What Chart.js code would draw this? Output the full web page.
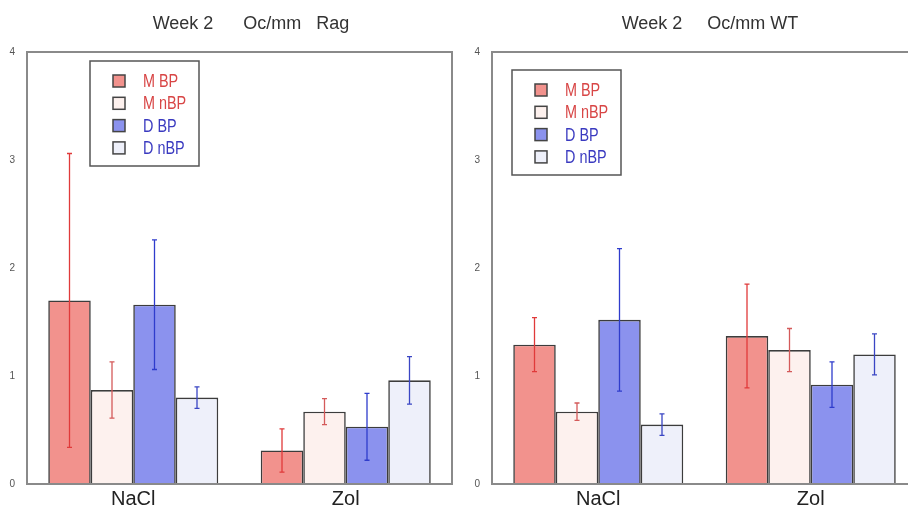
<!DOCTYPE html>
<html>
<head>
<meta charset="utf-8">
<script src="https://cdn.jsdelivr.net/npm/chart.js@4"></script>
<style>
  html, body { margin: 0; padding: 0; background: #fff; overflow: hidden; }
  body { width: 908px; height: 510px; position: relative; }
  .box { position: absolute; top: 0; width: 460px; height: 510px; }
  #b1 { left: 0; }
  #b2 { left: 465px; }
</style>
</head>
<body>
<div class="box" id="b1"><canvas id="c1"></canvas></div>
<div class="box" id="b2"><canvas id="c2"></canvas></div>
<script>
// ---- data ----
const categories = ['NaCl', 'Zol'];
const seriesLabels = ['M BP', 'M nBP', 'D BP', 'D nBP'];
const yTicks = [0, 1, 2, 3, 4];

const titleRag = 'Week 2      Oc/mm   Rag';
const titleWT = 'Week 2     Oc/mm WT';

// Rag panel
const ragMBP = [1.70, 0.31];
const ragMBPErr = [1.36, 0.20];
const ragMnBP = [0.87, 0.67];
const ragMnBPErr = [0.26, 0.12];
const ragDBP = [1.66, 0.53];
const ragDBPErr = [0.60, 0.31];
const ragDnBP = [0.80, 0.96];
const ragDnBPErr = [0.10, 0.22];

// WT panel
const wtMBP = [1.29, 1.37];
const wtMBPErr = [0.25, 0.48];
const wtMnBP = [0.67, 1.24];
const wtMnBPErr = [0.08, 0.20];
const wtDBP = [1.52, 0.92];
const wtDBPErr = [0.66, 0.21];
const wtDnBP = [0.55, 1.20];
const wtDnBPErr = [0.10, 0.19];

// ---- styles ----
const fills = ['#f2928d', '#fdf1ee', '#8b92ee', '#eef0fa'];
const errColors = ['#e03a3a', '#d45a5a', '#2f3ccc', '#3a46c4'];
const textColors = ['#d84646', '#d84646', '#3a3ac0', '#3a3ac0'];
const FONT = '"Liberation Sans", Arial, sans-serif';

const errorBarPlugin = {
  id: 'errorBars',
  afterDatasetsDraw(chart) {
    const ctx = chart.ctx;
    const ys = chart.scales.y;
    chart.data.datasets.forEach((ds, i) => {
      const meta = chart.getDatasetMeta(i);
      meta.data.forEach((el, j) => {
        const v = ds.data[j], e = ds.errors[j];
        const y1 = ys.getPixelForValue(v + e);
        const y2 = ys.getPixelForValue(v - e);
        const x = el.x;
        ctx.save();
        ctx.strokeStyle = ds.errorColor;
        ctx.lineWidth = 1.3;
        ctx.beginPath();
        ctx.moveTo(x, y1); ctx.lineTo(x, y2);
        ctx.moveTo(x - 2.5, y1); ctx.lineTo(x + 2.5, y1);
        ctx.moveTo(x - 2.5, y2); ctx.lineTo(x + 2.5, y2);
        ctx.stroke();
        ctx.restore();
      });
    });
  }
};

const framePlugin = {
  id: 'frame',
  afterDatasetsDraw(chart) {
    const a = chart.chartArea, ctx = chart.ctx;
    ctx.save();
    ctx.strokeStyle = '#8a8a8a';
    ctx.lineWidth = 2;
    ctx.strokeRect(a.left, a.top, a.right - a.left, a.bottom - a.top);
    ctx.restore();
  }
};

const boxLegendPlugin = {
  id: 'boxLegend',
  afterDraw(chart, args, opts) {
    const a = chart.chartArea, ctx = chart.ctx;
    const bx = a.left + opts.dx, by = a.top + opts.dy;
    ctx.save();
    ctx.fillStyle = '#fff';
    ctx.fillRect(bx, by, opts.w, opts.h);
    ctx.strokeStyle = '#555';
    ctx.lineWidth = 1.5;
    ctx.strokeRect(bx, by, opts.w, opts.h);
    chart.data.datasets.forEach((ds, i) => {
      const cy = by + 20 + i * 22.3;
      ctx.fillStyle = ds.backgroundColor;
      ctx.fillRect(bx + 23, cy - 6, 12, 12);
      ctx.strokeStyle = '#444';
      ctx.lineWidth = 1.5;
      ctx.strokeRect(bx + 23, cy - 6, 12, 12);
      // condensed label text
      ctx.save();
      ctx.translate(bx + 53, cy + 1);
      ctx.scale(0.8, 1);
      ctx.font = '18px ' + FONT;
      ctx.textBaseline = 'middle';
      ctx.fillStyle = textColors[i];
      ctx.fillText(ds.label, 0, 0);
      ctx.restore();
    });
    ctx.restore();
  }
};

const panelTitlePlugin = {
  id: 'panelTitle',
  afterDraw(chart, args, opts) {
    const ctx = chart.ctx;
    ctx.save();
    ctx.font = '18px ' + FONT;
    ctx.fillStyle = '#333';
    ctx.textAlign = 'center';
    ctx.textBaseline = 'middle';
    ctx.fillText(opts.text, opts.x, 24.5);
    ctx.restore();
  }
};

function makeDatasets(vals, errs) {
  return seriesLabels.map((lab, i) => ({
    label: lab,
    data: vals[i],
    errors: errs[i],
    errorColor: errColors[i],
    backgroundColor: fills[i],
    borderColor: '#3c3c3c',
    borderWidth: 1.6,
    categoryPercentage: 0.8,
    barPercentage: 1.0
  }));
}

function makeChart(id, vals, errs, title, titleX, legendPos) {
  return new Chart(document.getElementById(id), {
    type: 'bar',
    data: { labels: categories, datasets: makeDatasets(vals, errs) },
    options: {
      responsive: true,
      maintainAspectRatio: false,
      animation: false,
      layout: { padding: { top: 52, right: 8, left: 0, bottom: 0 } },
      plugins: {
        legend: { display: false },
        tooltip: { enabled: false },
        title: { display: false },
        boxLegend: legendPos,
        panelTitle: { text: title, x: titleX }
      },
      scales: {
        x: {
          grid: { display: false, drawTicks: false },
          border: { display: false },
          ticks: { font: { family: FONT, size: 20 }, color: '#222', padding: 3 },
          afterFit(s) { s.height = 26; }
        },
        y: {
          min: 0, max: 4,
          grid: { display: false, drawTicks: false },
          border: { display: false },
          afterBuildTicks(s) { s.ticks = yTicks.map(v => ({ value: v })); },
          ticks: { font: { family: FONT, size: 10 }, color: '#555', padding: 12 },
          afterFit(s) { s.width = 27; }
        }
      }
    },
    plugins: [errorBarPlugin, framePlugin, boxLegendPlugin, panelTitlePlugin]
  });
}

makeChart('c1',
  [ragMBP, ragMnBP, ragDBP, ragDnBP],
  [ragMBPErr, ragMnBPErr, ragDBPErr, ragDnBPErr],
  titleRag, 251, { dx: 63, dy: 9, w: 109, h: 105 });

makeChart('c2',
  [wtMBP, wtMnBP, wtDBP, wtDnBP],
  [wtMBPErr, wtMnBPErr, wtDBPErr, wtDnBPErr],
  titleWT, 245, { dx: 20, dy: 18, w: 109, h: 105 });
</script>
</body>
</html>
